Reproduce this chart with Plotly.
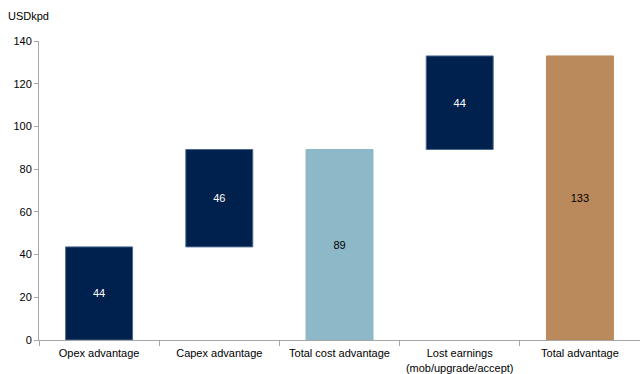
import plotly.graph_objects as go

# Waterfall of advantage components (USD thousand per day)
categories = ["Opex advantage", "Capex advantage", "Total cost advantage",
              "Lost earnings<br>(mob/upgrade/accept)", "Total advantage"]
values = [43.6, 45.6, 89.2, 43.8, 133.0]
bases = [0, 43.6, 0, 89.2, 0]
colors = ["#00214D", "#00214D", "#8DB8C8", "#00214D", "#BB8A5C"]
line_colors = ["#4A6A90", "#4A6A90", "#8DB8C8", "#4A6A90", "#BB8A5C"]
text_colors = ["white", "white", "black", "white", "black"]
labels = [f"{v:.0f}" for v in values]

fig = go.Figure(go.Bar(
    x=categories,
    y=values,
    base=bases,
    marker=dict(color=colors, line=dict(color=line_colors, width=1)),
    text=labels,
    textposition="inside",
    insidetextanchor="middle",
    textfont=dict(color=text_colors, size=11, family="Liberation Sans, Arial"),
    hoverinfo="skip",
))

fig.update_layout(
    width=640, height=374,
    margin=dict(l=39, r=0, t=41, b=34),
    paper_bgcolor="white", plot_bgcolor="white",
    bargap=0.443,
    showlegend=False,
    font=dict(family="Liberation Sans, Arial", size=11, color="black"),
    annotations=[dict(text="USDkpd", xref="paper", yref="paper", x=0, y=1,
                      xanchor="left", yanchor="bottom", xshift=-33, yshift=17,
                      showarrow=False, font=dict(size=11))],
)

fig.update_yaxes(
    range=[0, 140], dtick=20, showgrid=False, zeroline=False,
    showline=True, linecolor="#A6A6A6", linewidth=1,
    ticks="outside", ticklen=4, tickcolor="#A6A6A6",
    tickfont=dict(size=11), fixedrange=True,
)
fig.update_xaxes(
    range=[-0.5, 4.5], showgrid=False,
    showline=True, linecolor="#A6A6A6", linewidth=1,
    ticks="outside", tickson="boundaries", ticklen=5, tickcolor="#A6A6A6",
    ticklabelstandoff=3, tickangle=0,
    tickfont=dict(size=11), fixedrange=True,
)

fig.write_html("out.html")
